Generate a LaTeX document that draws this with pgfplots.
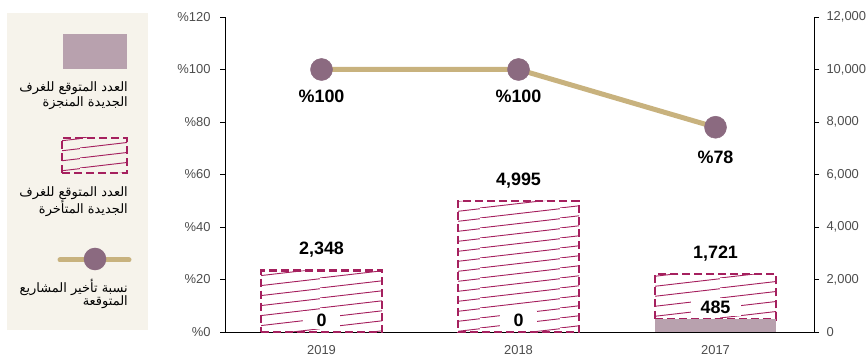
\documentclass[border=0pt]{standalone}
\usepackage{pgfplots}
\pgfplotsset{compat=1.18}
\usepackage{fontspec}
\setmainfont{Liberation Sans}
\newfontfamily\arabicfont[Script=Arabic]{DejaVu Sans}
\TeXXeTstate=1
\usetikzlibrary{patterns.meta}

\definecolor{solidbar}{HTML}{B8A1AE}
\definecolor{magent}{HTML}{A5205E}
\definecolor{tanline}{HTML}{C8B27E}
\definecolor{dotc}{HTML}{8B6A80}
\definecolor{legbg}{HTML}{F6F3EB}
\definecolor{ticklab}{HTML}{4D4D4D}

\tikzdeclarepattern{
  name=shallowlines,
  type=uncolored,
  bounding box={(0,0) and (80bp,10bp)},
  tile size={(80bp,10bp)},
  code={
    \draw[line width=1bp] (-80bp,-10bp) -- (160bp,20bp);
  }
}

\begin{document}
\begin{tikzpicture}
\useasboundingbox (0bp,0bp) rectangle (867bp,358bp);

% legend panel
\begin{scope}[x=1bp,y=1bp]
\fill[legbg] (7,28) rectangle (148,345);
\fill[solidbar] (63,289) rectangle (127,324);
\node[anchor=east, inner sep=0, font=\arabicfont\fontsize{13}{14}\selectfont] at (128,270) {\beginR العدد المتوقع للغرف\endR};
\node[anchor=east, inner sep=0, font=\arabicfont\fontsize{13}{14}\selectfont] at (128,255) {\beginR الجديدة المنجزة\endR};
\path[pattern={shallowlines}, pattern color=magent] (62,185) rectangle (127,220);
\draw[magent, line width=2.5bp, dash pattern=on 8bp off 4bp] (62,185) rectangle (127,220);
\node[anchor=east, inner sep=0, font=\arabicfont\fontsize{13}{14}\selectfont] at (128,165) {\beginR العدد المتوقع للغرف\endR};
\node[anchor=east, inner sep=0, font=\arabicfont\fontsize{13}{14}\selectfont] at (128,150) {\beginR الجديدة المتأخرة\endR};
\draw[tanline, line width=5bp, line cap=round] (60,98) -- (129,98);
\fill[dotc] (95,99) circle (11.3);
\node[anchor=east, inner sep=0, font=\arabicfont\fontsize{13}{14}\selectfont] at (128,71) {\beginR نسبة تأخير المشاريع\endR};
\node[anchor=east, inner sep=0, font=\arabicfont\fontsize{13}{14}\selectfont] at (128,56) {\beginR المتوقعة\endR};
\end{scope}

% bars on right axis
\begin{axis}[
  at={(225bp,26bp)}, anchor=south west,
  scale only axis, width=589bp, height=315bp,
  xmin=-0.49, xmax=2.5, ymin=0, ymax=12000,
  axis y line*=right, axis x line*=bottom,
  axis line style={-, black, line width=0.8bp},
  ytick={0,2000,4000,6000,8000,10000,12000},
  scaled y ticks=false,
  /pgf/number format/1000 sep={,},
  /pgf/number format/assume math mode=true,
  yticklabel style={font=\fontsize{13}{15}\selectfont, text=ticklab, xshift=4bp},
  xtick={0,1,2}, xticklabels={2019,2018,2017},
  xticklabel style={font=\fontsize{13}{15}\selectfont, text=ticklab, yshift=-5bp},
  x tick style={draw=none},
  y tick style={black, line width=0.8bp},
  tick align=outside, major tick length=5bp,
  ybar stacked, bar width=121bp,
  clip=false,
]
\addplot[fill=solidbar, draw=none] coordinates {(0,0) (1,0) (2,485)};
\addplot[pattern={shallowlines}, pattern color=magent, draw=magent, line width=2.5bp, dash pattern=on 8bp off 4bp] coordinates {(0,2348) (1,4995) (2,1721)};
\node[font=\bfseries\fontsize{18}{20}\selectfont, yshift=21bp] at (axis cs:0,2348) {2,348};
\node[font=\bfseries\fontsize{18}{20}\selectfont, yshift=20bp] at (axis cs:1,4995) {4,995};
\node[font=\bfseries\fontsize{18}{20}\selectfont, yshift=20bp] at (axis cs:2,2206) {1,721};
\end{axis}

% line on left axis
\begin{axis}[
  at={(225bp,26bp)}, anchor=south west,
  scale only axis, width=589bp, height=315bp,
  xmin=-0.49, xmax=2.5, ymin=0, ymax=120,
  axis y line*=left, axis x line=none,
  axis line style={-, black, line width=0.8bp},
  ytick={0,20,40,60,80,100,120},
  yticklabels={\%0,\%20,\%40,\%60,\%80,\%100,\%120},
  yticklabel style={font=\fontsize{13}{15}\selectfont, text=ticklab, xshift=-6bp},
  y tick style={black, line width=0.8bp},
  tick align=outside, major tick length=5bp,
  clip=false,
]
\addplot[tanline, line width=5bp, mark=*, mark size=11bp, mark options={solid, fill=dotc, draw=dotc, line width=0.5bp}] coordinates {(0,100) (1,100) (2,78)};
\node[font=\bfseries\fontsize{18}{20}\selectfont, yshift=-27bp] at (axis cs:0,100) {\%100};
\node[font=\bfseries\fontsize{18}{20}\selectfont, yshift=-27bp] at (axis cs:1,100) {\%100};
\node[font=\bfseries\fontsize{18}{20}\selectfont, yshift=-30bp] at (axis cs:2,78) {\%78};
% value labels of the completed series (0, 0, 485), with white backing
\node[font=\bfseries\fontsize{18}{20}\selectfont, fill=white, inner sep=0, minimum width=37bp, minimum height=18bp, yshift=12bp] at (axis cs:0,0) {0};
\node[font=\bfseries\fontsize{18}{20}\selectfont, fill=white, inner sep=0, minimum width=37bp, minimum height=18bp, yshift=12bp] at (axis cs:1,0) {0};
\node[font=\bfseries\fontsize{18}{20}\selectfont, fill=white, inner sep=0, minimum width=50bp, minimum height=18bp, yshift=12bp] at (axis cs:2,4.85) {485};
\end{axis}
\end{tikzpicture}
\end{document}
